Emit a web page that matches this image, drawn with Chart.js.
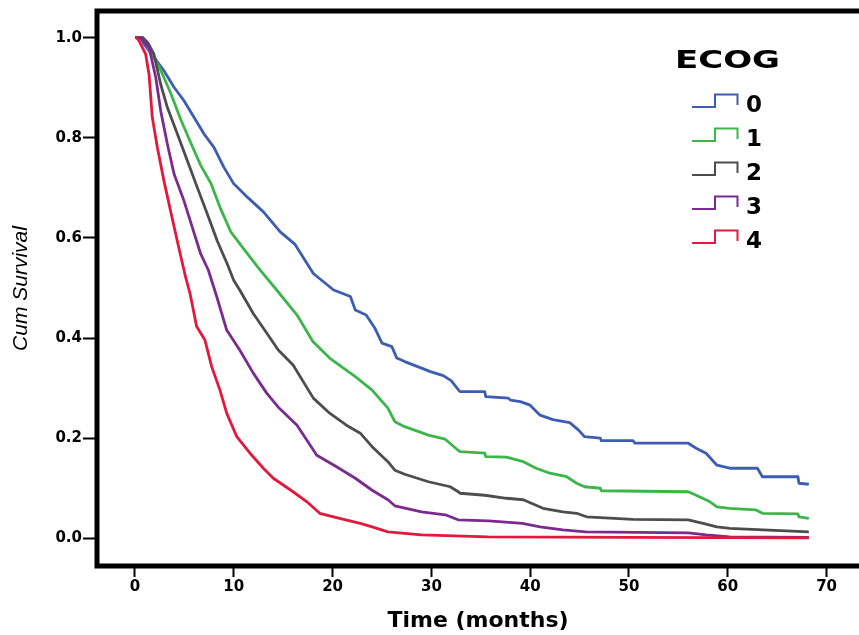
<!DOCTYPE html>
<html><head><meta charset="utf-8">
<script src="https://cdn.jsdelivr.net/npm/chart.js@4.4.1/dist/chart.umd.min.js"></script>
<style>html,body{margin:0;padding:0;background:#fff;overflow:hidden}</style>
</head><body>
<canvas id="c" width="859" height="635" style="display:block;width:859px;height:635px"></canvas>
<script>
const legendTitle = 'ECOG';
const groupLabels = ['0', '1', '2', '3', '4'];
const groupColors = ['#3d5db3', '#3cb54a', '#4d4d4d', '#7b2b8f', '#e2183d'];
const xTickValues = [0, 10, 20, 30, 40, 50, 60, 70];
const yTickValues = [0, 0.2, 0.4, 0.6, 0.8, 1.0];
const xAxisTitle = 'Time (months)';
const yAxisTitle = 'Cum Survival';

const time0 = [0,0.6,0.91,1.92,2.93,3.95,4.96,5.97,6.98,7.99,9.0,10.0,11.4,13.0,14.7,16.2,18.05,20.1,21.8,22.3,23.4,24.3,25.0,26.0,26.5,27.3,29.0,29.9,31.2,32.0,32.8,32.9,35.4,35.5,37.8,38.0,39.0,40.0,41.0,42.3,44.0,44.9,45.5,47.1,47.2,50.4,50.6,56.0,56.8,57.8,58.9,60.2,63.0,63.5,67.1,67.2,68.2];
const surv0 = [1,1,0.987,0.961,0.934,0.901,0.874,0.841,0.808,0.781,0.741,0.708,0.681,0.652,0.612,0.587,0.529,0.496,0.483,0.456,0.446,0.419,0.39,0.383,0.36,0.353,0.34,0.333,0.325,0.315,0.295,0.293,0.293,0.283,0.28,0.276,0.273,0.266,0.246,0.237,0.231,0.216,0.203,0.2,0.195,0.195,0.19,0.19,0.18,0.17,0.146,0.14,0.14,0.123,0.123,0.11,0.108];

const time1 = [0,0.8,1.75,2.6,3.6,4.6,5.64,6.65,7.66,8.67,9.7,11.0,12.65,14.34,16.4,18.0,19.7,21.1,22.3,24.0,25.6,26.3,27.3,29.7,31.4,32.7,32.9,35.4,35.5,37.6,39.3,40.6,42.0,43.7,44.7,45.5,47.1,47.2,56.0,56.8,58.2,58.9,60.2,62.8,63.5,67.1,67.2,68.2];
const surv1 = [1,1,0.967,0.935,0.89,0.838,0.79,0.745,0.71,0.658,0.612,0.578,0.536,0.496,0.446,0.393,0.36,0.34,0.323,0.296,0.26,0.233,0.223,0.206,0.198,0.176,0.173,0.17,0.163,0.162,0.153,0.14,0.13,0.123,0.11,0.103,0.1,0.095,0.093,0.086,0.073,0.063,0.06,0.057,0.05,0.049,0.043,0.04];

const time2 = [0,0.8,1.3,1.92,2.6,3.27,4.28,5.3,6.3,7.32,8.33,9.34,10.0,10.6,11.97,13.33,14.5,16.0,18.05,19.7,21.4,22.8,24.0,25.6,26.3,27.3,29.7,31.9,32.8,32.9,35.4,37.6,39.3,41.3,43.3,44.7,45.7,50.4,56.0,57.5,58.9,60.2,63.6,68.2];
const surv2 = [1,1,0.99,0.967,0.907,0.861,0.808,0.754,0.701,0.648,0.594,0.548,0.515,0.496,0.449,0.41,0.376,0.346,0.28,0.25,0.226,0.21,0.183,0.153,0.136,0.128,0.113,0.103,0.092,0.09,0.086,0.08,0.077,0.06,0.053,0.05,0.043,0.038,0.037,0.03,0.023,0.02,0.017,0.013];

const time3 = [0,0.5,1.0,1.42,2.1,2.6,3.27,3.95,4.96,5.8,6.65,7.42,8.27,9.28,10.6,11.97,13.33,14.5,16.4,18.4,20.4,22.3,24.0,25.6,26.3,29.0,31.4,32.7,35.8,39.2,41.0,43.3,45.6,56.0,57.8,60.2,68.2];
const surv3 = [1,1,0.99,0.981,0.921,0.854,0.788,0.728,0.674,0.621,0.568,0.536,0.483,0.416,0.376,0.33,0.29,0.262,0.226,0.166,0.143,0.12,0.096,0.077,0.065,0.053,0.047,0.037,0.035,0.03,0.023,0.017,0.013,0.011,0.007,0.003,0.002];

const time4 = [0,0.17,0.4,1.08,1.42,1.75,2.26,2.93,3.6,4.28,5.13,5.57,6.24,7.08,7.76,8.6,9.28,10.3,11.64,12.99,14.0,16.0,17.4,18.7,20.7,22.8,24.0,25.6,29.0,35.7,50.0,68.2];
const surv4 = [1,1,0.994,0.967,0.927,0.841,0.781,0.714,0.654,0.594,0.521,0.489,0.423,0.396,0.343,0.296,0.25,0.203,0.17,0.14,0.12,0.093,0.073,0.05,0.04,0.03,0.023,0.013,0.007,0.003,0.002,0.001];

const allTimes = [time0, time1, time2, time3, time4];
const allSurv = [surv0, surv1, surv2, surv3, surv4];

const datasets = groupLabels.map((lab, i) => ({
  label: lab,
  data: allTimes[i].map((t, k) => ({x: t, y: allSurv[i][k]})),
  borderColor: groupColors[i],
  backgroundColor: groupColors[i],
  borderWidth: 2.8,
  pointRadius: 0,
  tension: 0,
  fill: false,
  order: 4 - i
}));

const frameAndLegend = {
  id: 'frameAndLegend',
  afterDraw(chart) {
    const ctx = chart.ctx;
    const a = chart.chartArea;
    ctx.save();
    ctx.strokeStyle = '#000';
    ctx.lineWidth = 5;
    ctx.lineCap = 'butt';
    ctx.beginPath();
    ctx.moveTo(a.left, a.top - 2.5);
    ctx.lineTo(a.left, a.bottom + 2.5);
    ctx.moveTo(a.left - 2.5, a.top);
    ctx.lineTo(chart.width, a.top);
    ctx.moveTo(a.left - 2.5, a.bottom);
    ctx.lineTo(chart.width, a.bottom);
    ctx.stroke();
    ctx.fillStyle = '#000';
    ctx.font = 'bold 25px "DejaVu Sans"';
    ctx.textAlign = 'center';
    ctx.textBaseline = 'alphabetic';
    ctx.save();
    ctx.translate(727.5, 68.3);
    ctx.scale(1.36, 1);
    ctx.fillText(legendTitle, 0, 0);
    ctx.restore();
    ctx.font = 'bold 23px "DejaVu Sans"';
    ctx.textAlign = 'left';
    groupLabels.forEach((lab, i) => {
      const cy = 103.5 + i * 34;
      ctx.strokeStyle = groupColors[i];
      ctx.lineWidth = 2;
      ctx.beginPath();
      ctx.moveTo(692, cy + 3.5);
      ctx.lineTo(715, cy + 3.5);
      ctx.lineTo(715, cy - 9);
      ctx.lineTo(737.5, cy - 9);
      ctx.lineTo(737.5, cy + 1.5);
      ctx.stroke();
      ctx.fillStyle = '#000';
      ctx.fillText(lab, 746, cy + 8.4);
    });
    ctx.restore();
  }
};

new Chart(document.getElementById('c'), {
  type: 'line',
  data: { datasets },
  options: {
    responsive: false,
    animation: false,
    devicePixelRatio: 1,
    layout: { padding: { left: 0, right: 0, top: 11, bottom: 0 } },
    plugins: { legend: { display: false }, tooltip: { enabled: false } },
    elements: { line: { borderJoinStyle: 'round', borderCapStyle: 'butt' } },
    scales: {
      x: {
        type: 'linear',
        min: -3.846,
        max: 73.28,
        afterBuildTicks: s => { s.ticks = xTickValues.map(v => ({ value: v })); },
        afterFit: s => { s.height = 69; },
        border: { display: false },
        grid: { display: true, drawOnChartArea: false, drawTicks: true, tickLength: 11, tickWidth: 2, tickColor: '#000' },
        ticks: { color: '#000', padding: 1, font: { family: 'DejaVu Sans', weight: 'bold', size: 15 }, callback: v => String(v), maxRotation: 0 },
        title: { display: true, text: xAxisTitle, color: '#000', font: { family: 'DejaVu Sans', weight: 'bold', size: 22 }, padding: { top: 0, bottom: 1 } }
      },
      y: {
        type: 'linear',
        min: -0.0553,
        max: 1.0533,
        afterBuildTicks: s => { s.ticks = yTickValues.map(v => ({ value: v })); },
        afterFit: s => { s.width = 97; },
        border: { display: false },
        grid: { display: true, drawOnChartArea: false, drawTicks: true, tickLength: 14, tickWidth: 2, tickColor: '#000' },
        ticks: { color: '#000', padding: 1, font: { family: 'DejaVu Sans', weight: 'bold', size: 15 }, callback: v => Number(v).toFixed(1) },
        title: { display: true, text: yAxisTitle, color: '#000', font: { family: 'Liberation Sans', style: 'italic', weight: 'normal', size: 21 }, padding: { top: 9, bottom: 0 } }
      }
    }
  },
  plugins: [frameAndLegend]
});
</script>
</body></html>
